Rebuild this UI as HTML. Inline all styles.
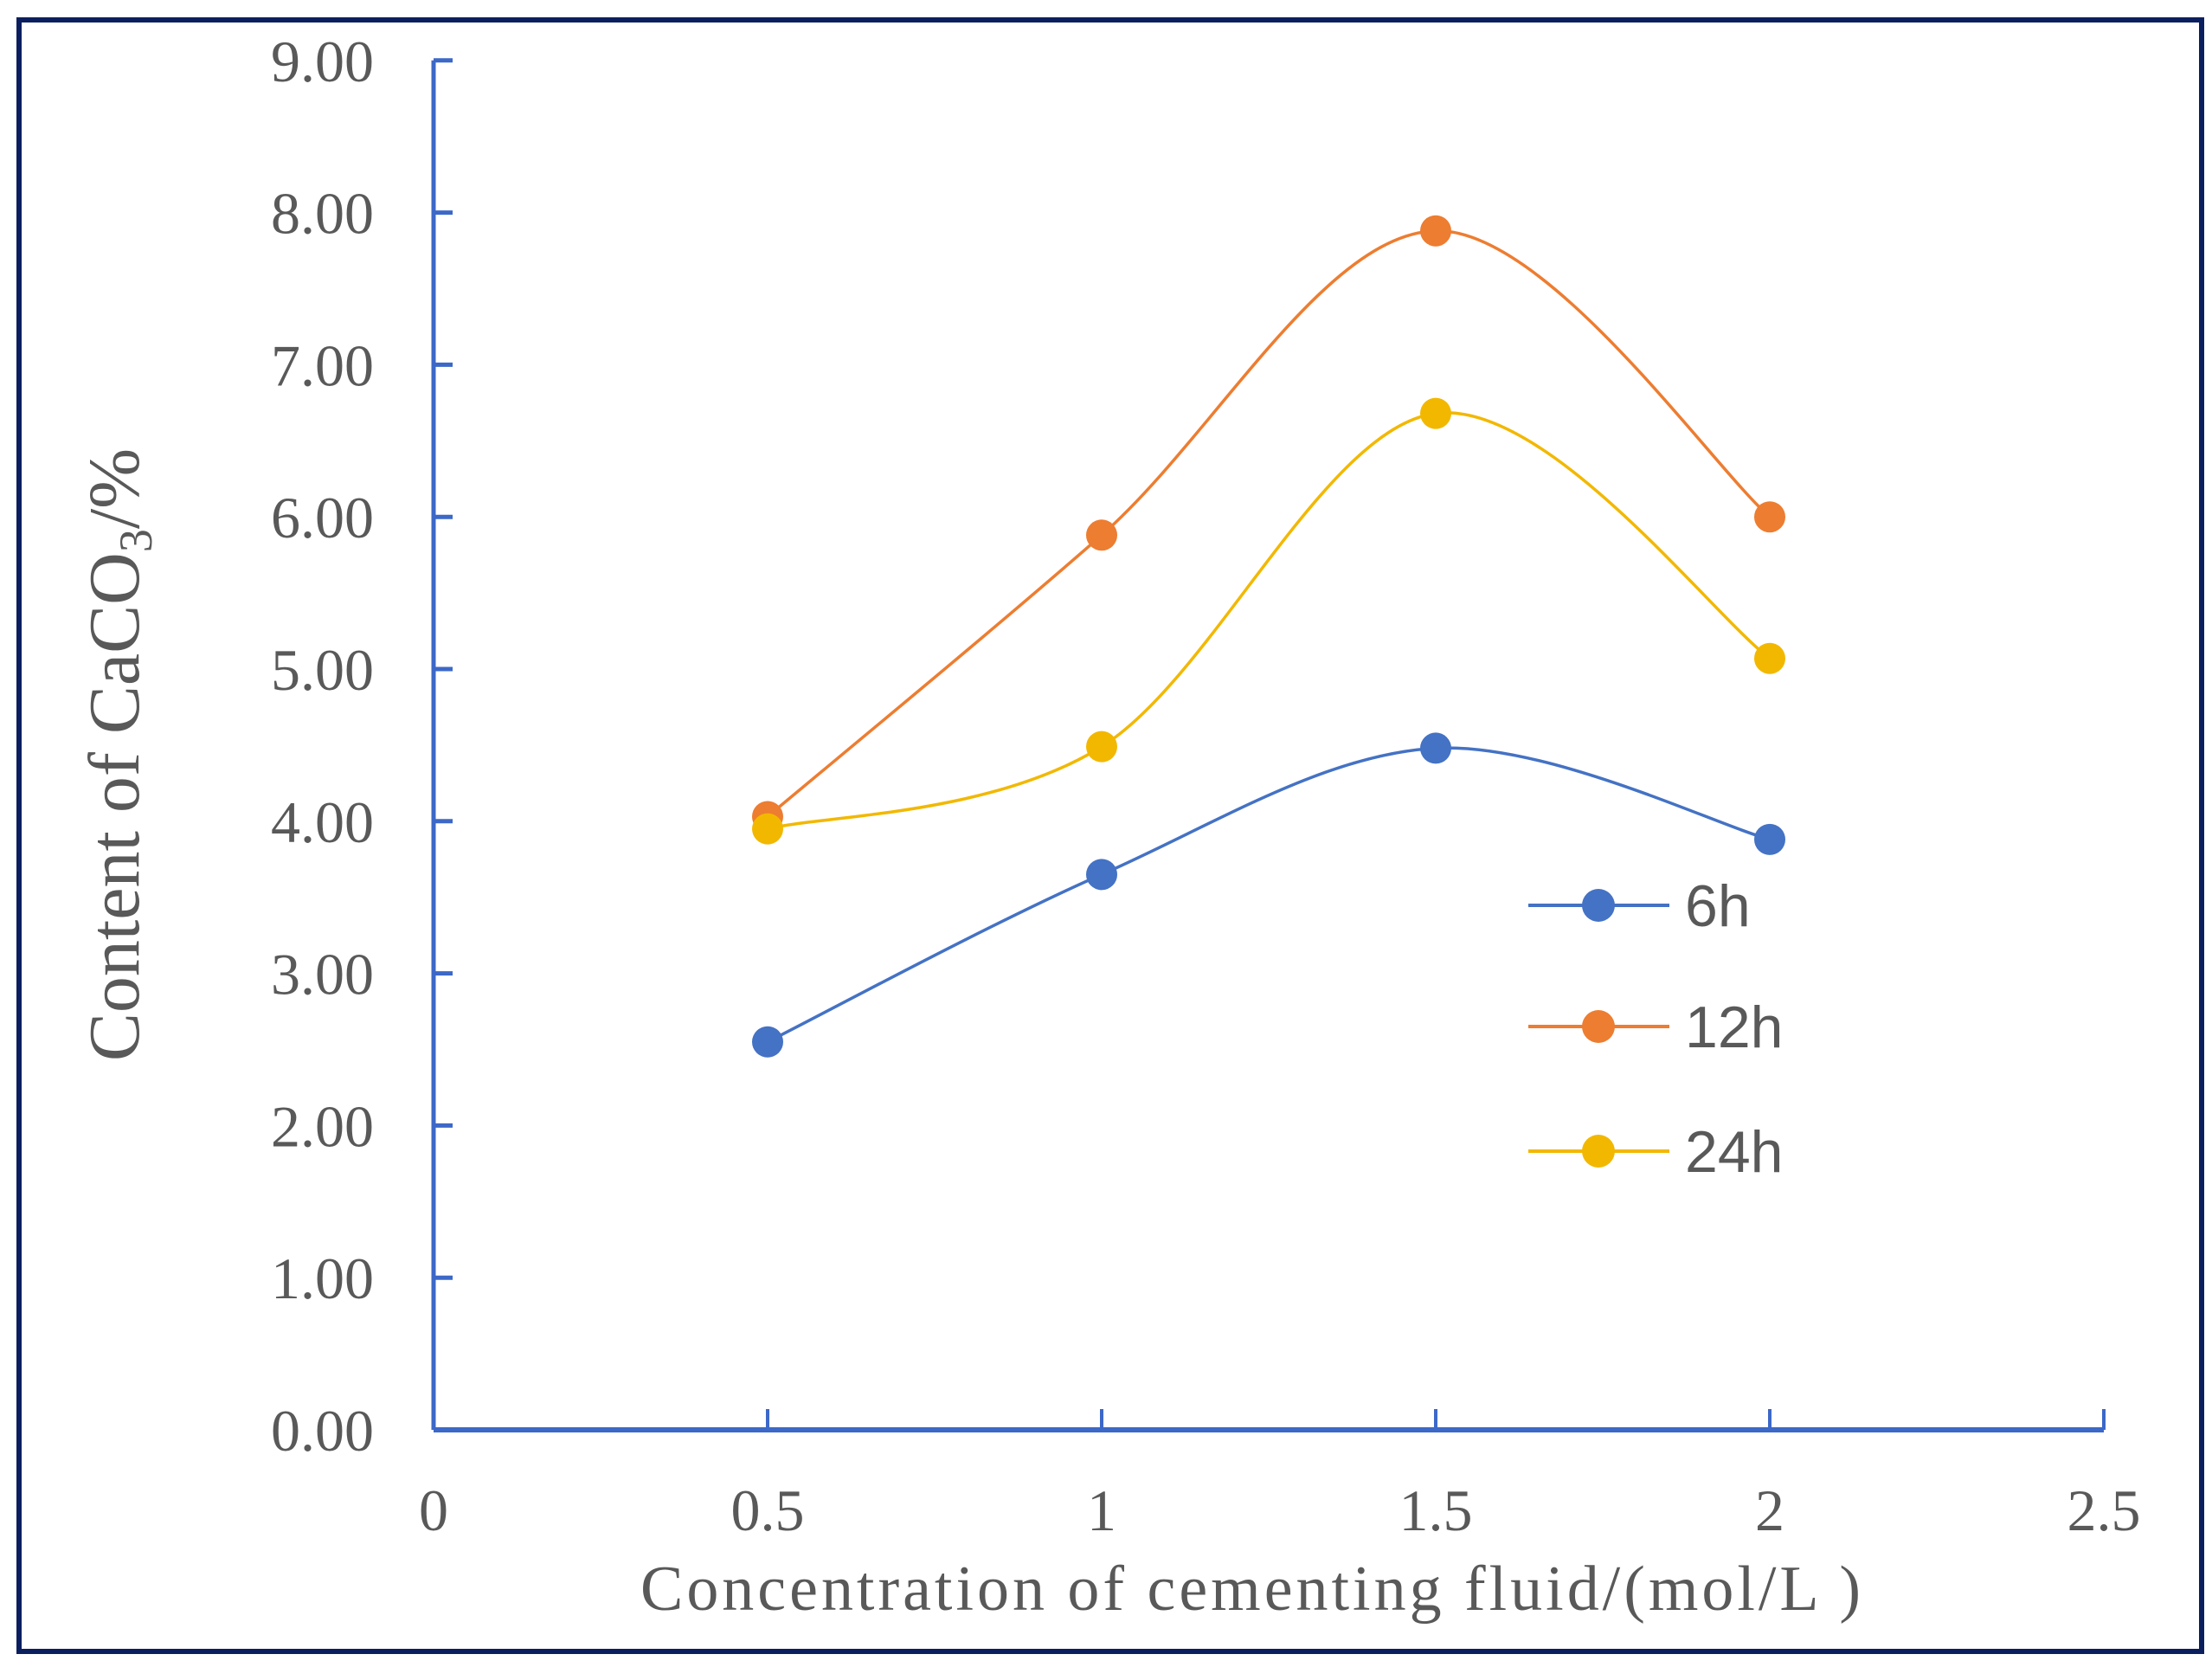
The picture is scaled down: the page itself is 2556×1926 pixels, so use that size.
<!DOCTYPE html>
<html><head><meta charset="utf-8"><style>
html,body{margin:0;padding:0;background:#fff;}
svg{display:block;}
</style></head><body>
<svg id="chart" width="2556" height="1926" viewBox="0 0 2556 1926" xmlns="http://www.w3.org/2000/svg">
<rect x="22" y="23" width="2522" height="1885" fill="#fff" stroke="#0b1f5e" stroke-width="6"/>
<g id="axes"></g>
<g id="series"></g>
<g id="legend"></g>
<text transform="translate(160,872) rotate(-90)" text-anchor="middle" font-family="Liberation Serif, serif" font-size="84" fill="#595959">Content of CaCO<tspan font-size="54" dy="15">3</tspan><tspan dy="-15">/%</tspan></text>
<text x="1445" y="1860" text-anchor="middle" font-family="Liberation Serif, serif" font-size="74" fill="#595959" textLength="1410">Concentration of cementing  fluid/(mol/L )</text>
</svg>
<script>
const categories = [0.5, 1, 1.5, 2];
const seriesNames = ["6h", "12h", "24h"];
const values6h = [2.55, 3.65, 4.48, 3.88];
const values12h = [4.03, 5.88, 7.88, 6.00];
const values24h = [3.95, 4.49, 6.68, 5.07];
const yTickLabels = ["0.00","1.00","2.00","3.00","4.00","5.00","6.00","7.00","8.00","9.00"];
const xTickLabels = ["0","0.5","1","1.5","2","2.5"];

const NS = "http://www.w3.org/2000/svg";
const X0 = 501, XPU = 772, Y0 = 1652, YPU = 175.8;
const xs = v => X0 + v * XPU;
const ys = v => Y0 - v * YPU;
const colors = ["#4472C4", "#ED7D31", "#F2B800"];
const allVals = [values6h, values12h, values24h];

function mk(tag, attrs, parent) {
  const e = document.createElementNS(NS, tag);
  for (const k in attrs) e.setAttribute(k, attrs[k]);
  parent.appendChild(e);
  return e;
}
const axes = document.getElementById("axes");
const axisColor = "#3c68c8";
let yl = mk("line", {x1: xs(0), y1: ys(0), x2: xs(0), y2: ys(9), stroke: axisColor, "stroke-width": 5}, axes);


yTickLabels.forEach((lab, i) => {
  const v = parseFloat(lab);
  const t = mk("line", {x1: xs(0), y1: ys(v), x2: xs(0) + 22, y2: ys(v), stroke: axisColor, "stroke-width": 5}, axes);
  
  
  const tx = mk("text", {x: 432, y: ys(v) + 24, "text-anchor": "end", "font-family": "Liberation Serif, serif", "font-size": 68, fill: "#595959"}, axes);
  tx.textContent = lab;
  
  
});
let xl = mk("line", {x1: xs(0), y1: ys(0), x2: xs(2.5), y2: ys(0), stroke: axisColor, "stroke-width": 6}, axes);


xTickLabels.forEach(lab => {
  const v = parseFloat(lab);
  if (v > 0) {
    const t = mk("line", {x1: xs(v), y1: ys(0), x2: xs(v), y2: ys(0) - 24, stroke: axisColor, "stroke-width": 4}, axes);
    
    
  }
  const tx = mk("text", {x: xs(v), y: 1768, "text-anchor": "middle", "font-family": "Liberation Serif, serif", "font-size": 68, fill: "#595959"}, axes);
  tx.textContent = lab;
  
  
});

const sg = document.getElementById("series");
function smoothPath(pts) {
  let d = `M${pts[0][0]},${pts[0][1]}`;
  const t = 1 / 6;
  for (let i = 0; i < pts.length - 1; i++) {
    const p0 = pts[i - 1] || pts[i], p1 = pts[i], p2 = pts[i + 1], p3 = pts[i + 2] || p2;
    const c1 = [p1[0] + (p2[0] - p0[0]) * t, p1[1] + (p2[1] - p0[1]) * t];
    const c2 = [p2[0] - (p3[0] - p1[0]) * t, p2[1] - (p3[1] - p1[1]) * t];
    d += ` C${c1[0]},${c1[1]} ${c2[0]},${c2[1]} ${p2[0]},${p2[1]}`;
  }
  return d;
}
allVals.forEach((vals, si) => {
  const pts = categories.map((c, i) => [xs(c), ys(vals[i])]);
  const p = mk("path", {d: smoothPath(pts), fill: "none", stroke: colors[si], "stroke-width": 3.5}, sg);
  
  
});
allVals.forEach((vals, si) => {
  categories.forEach((c, i) => {
    const m = mk("circle", {cx: xs(c), cy: ys(vals[i]), r: 18, fill: colors[si]}, sg);
    
    
  });
});

const lg = document.getElementById("legend");
const legY = [1046, 1186, 1330];
seriesNames.forEach((n, si) => {
  const g = mk("g", {}, lg);
  
  
  mk("line", {x1: 1766, y1: legY[si], x2: 1929, y2: legY[si], stroke: colors[si], "stroke-width": 4}, g);
  mk("circle", {cx: 1847, cy: legY[si], r: 19, fill: colors[si]}, g);
  const t = mk("text", {x: 1947, y: legY[si] + 24, "font-family": "Liberation Sans, sans-serif", "font-size": 68, fill: "#595959"}, g);
  t.textContent = n;
});
</script>
</body></html>
